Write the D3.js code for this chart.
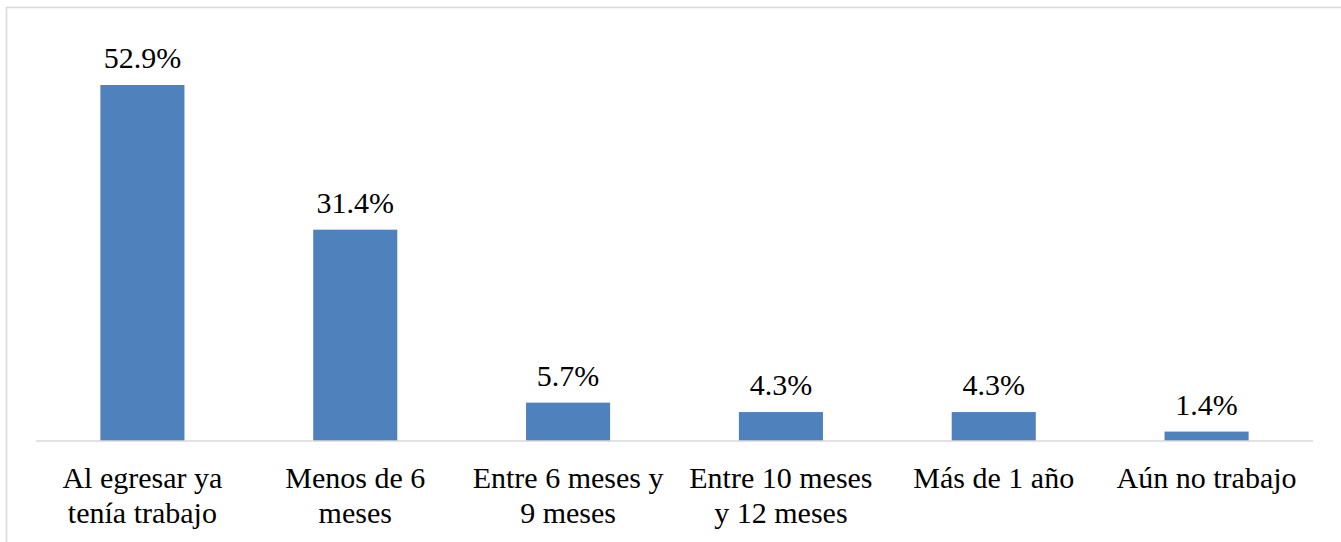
<!DOCTYPE html>
<html>
<head>
<meta charset="utf-8">
<script src="https://cdn.jsdelivr.net/npm/d3@7"></script>
<style>
  html, body { margin: 0; padding: 0; background: #fff; }
  svg { display: block; }
</style>
</head>
<body>
<svg id="chart" width="1341" height="542"></svg>
<script>
const categories = [
  ["Al egresar ya", "tenía trabajo"],
  ["Menos de 6", "meses"],
  ["Entre 6 meses y", "9 meses"],
  ["Entre 10 meses", "y 12 meses"],
  ["Más de 1 año"],
  ["Aún no trabajo"]
];
const values = [52.9, 31.4, 5.7, 4.3, 4.3, 1.4];
const valueLabels = ["52.9%", "31.4%", "5.7%", "4.3%", "4.3%", "1.4%"];

const svg = d3.select("#chart");
const W = 1341, H = 542;
const left = 36, right = 1313, base = 441;
const fontFam = "'Liberation Serif', 'Times New Roman', serif";

// outer frame (extends beyond the picture on right and bottom)
svg.append("rect")
  .attr("x", 6.5).attr("y", 7.5)
  .attr("width", W + 20).attr("height", H + 20)
  .attr("fill", "none").attr("stroke", "#d9d9d9").attr("stroke-width", 1.5);

const keys = categories.map((d, i) => i);
const x = d3.scaleBand().domain(keys).range([left, right])
  .paddingInner(0.605).paddingOuter(0.3025);
const y = d3.scaleLinear().domain([0, 60]).range([base, base - 60 * (356 / 52.9)]);

// bars
svg.append("g").selectAll("rect").data(values).join("rect")
  .attr("x", (d, i) => x(i))
  .attr("y", d => y(d))
  .attr("width", x.bandwidth())
  .attr("height", d => y(0) - y(d))
  .attr("fill", "#4f81bd");

// axis line
const axis = d3.axisBottom(x).tickSize(0).tickFormat("");
const ag = svg.append("g").attr("transform", `translate(0,${base})`).call(axis);
ag.select(".domain").attr("stroke", "#d9d9d9").attr("stroke-width", 1.5)
  .attr("d", `M${left},0H${right}`);

// value labels
svg.append("g").selectAll("text").data(values).join("text")
  .attr("x", (d, i) => x(i) + x.bandwidth() / 2)
  .attr("y", d => y(d) - 17)
  .attr("text-anchor", "middle")
  .attr("font-family", fontFam)
  .attr("font-size", 30)
  .attr("fill", "#000")
  .text((d, i) => valueLabels[i]);

// category labels
const cg = svg.append("g");
categories.forEach((lines, i) => {
  const t = cg.append("text")
    .attr("text-anchor", "middle")
    .attr("font-family", fontFam)
    .attr("font-size", 30)
    .attr("fill", "#000");
  lines.forEach((ln, j) => {
    t.append("tspan")
      .attr("x", x(i) + x.bandwidth() / 2)
      .attr("y", 488 + j * 35)
      .text(ln);
  });
});
</script>
</body>
</html>
